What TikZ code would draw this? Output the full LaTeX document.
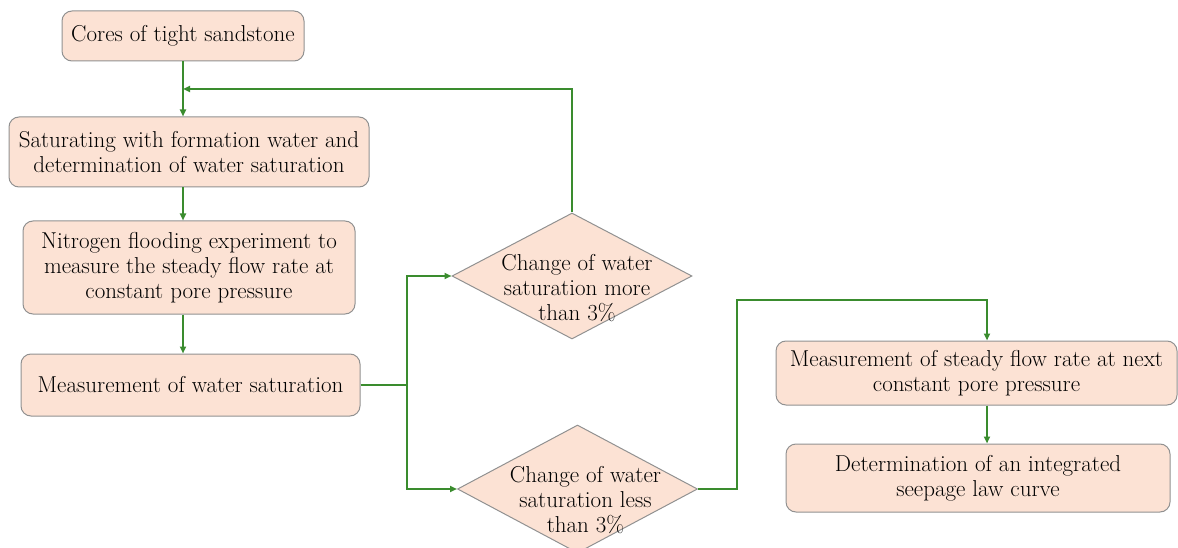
\documentclass[tikz,border=0pt]{standalone}
\usepackage{tikz}
\usetikzlibrary{arrows.meta,positioning,shapes.geometric,calc}
\definecolor{peach}{RGB}{252,226,212}
\definecolor{edge}{RGB}{145,145,145}
\definecolor{grass}{RGB}{58,140,46}
\tikzset{
  >={Triangle[length=7pt,width=6pt]},
  box/.style={draw=edge,fill=peach,rounded corners=10pt,line width=1pt,
    inner sep=0pt,align=center,font=\fontsize{23}{25}\selectfont},
  decision/.style={diamond,draw=edge,fill=peach,line width=1pt,inner sep=0pt,
    minimum width=240pt,minimum height=126pt},
  dtext/.style={font=\fontsize{23}{25}\selectfont,align=center},
  flow/.style={->,line width=2pt,draw=grass},
  wire/.style={line width=2pt,draw=grass},
}

\begin{document}
\begin{tikzpicture}[x=1pt,y=-1pt]
  \clip (0,0) rectangle (1178,548);
  % left column
  \node[box,minimum width=242pt,minimum height=50pt] (cores) at (183,36) {Cores of tight sandstone};
  \node[box,minimum width=360pt,minimum height=70pt] (satur) at (189,152) {Saturating with formation water and\\determination of water saturation};
  \node[box,minimum width=332pt,minimum height=93pt] (flood) at (189,267.5) {Nitrogen flooding experiment to\\measure the steady flow rate at\\constant pore pressure};
  \node[box,minimum width=339pt,minimum height=62pt] (meas) at (190.5,385) {Measurement of water saturation};
  % decisions
  \node[decision,label={[dtext,xshift=5pt,yshift=-12pt]center:{Change of water\\saturation more\\than 3\%}}] (more) at (572,276) {};
  \node[decision,minimum height=128pt,label={[dtext,xshift=8pt,yshift=-11pt]center:{Change of water\\saturation less\\than 3\%}}] (less) at (577.5,489) {};
  % right column
  \node[box,minimum width=401pt,minimum height=64pt] (next) at (976.5,373) {Measurement of steady flow rate at next\\constant pore pressure};
  \node[box,minimum width=384pt,minimum height=68pt] (curve) at (978,478) {Determination of an integrated\\seepage law curve};

  \coordinate (join) at ($(cores.south)!0.5!(cores.south |- satur.north)$);
  \coordinate (split) at (407,385);
  \coordinate (turn) at (737,300);
  \coordinate (nextin) at ([xshift=10.5pt]next.north);
  \coordinate (nextout) at ([xshift=10.5pt]next.south);

  \draw[flow] (cores.south) -- (cores.south |- satur.north);
  \draw[flow] (more.north) |- (join);
  \draw[flow] (cores.south |- satur.south) -- (cores.south |- flood.north);
  \draw[flow] (cores.south |- flood.south) -- (cores.south |- meas.north);
  \draw[wire] (meas.east) -- (split);
  \draw[flow] (split) |- (more.west);
  \draw[flow] (split) |- (less.west);
  \draw[flow] (less.east) -| (turn) -| (nextin);
  \draw[flow] (nextout) -- (nextout |- curve.north);
\end{tikzpicture}
\end{document}
